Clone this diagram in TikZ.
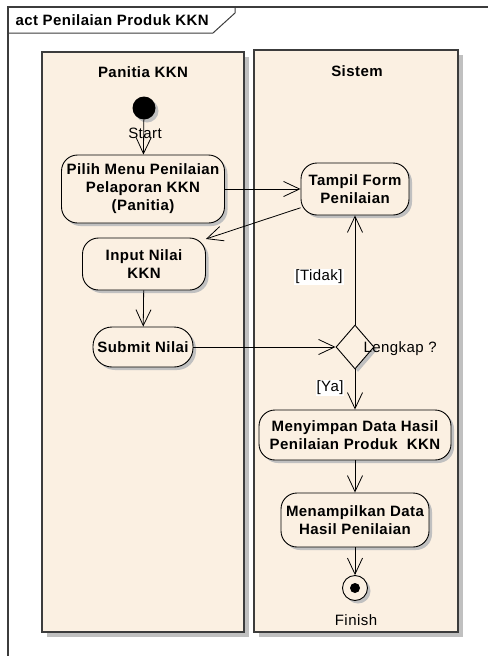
\documentclass[tikz,border=0pt]{standalone}
\usepackage{fontspec}
\setmainfont{Liberation Sans}[LetterSpace=3]
\usetikzlibrary{shapes.geometric, arrows.meta, shadows}
\definecolor{lanefill}{RGB}{251,240,226}
\definecolor{shadegray}{RGB}{192,192,192}
\definecolor{framegray}{RGB}{60,60,60}
\newcommand{\umlfont}{\fontsize{15}{18}\selectfont}

\begin{document}
\begin{tikzpicture}[x=1pt, y=-1pt,
  lanebox/.style={draw=framegray, fill=lanefill, line width=1.3pt},
  lanehead/.style={font=\umlfont\bfseries},
  umlshadow/.style={drop shadow={shadow xshift=3pt, shadow yshift=-3pt, fill=shadegray, opacity=1}},
  action/.style={draw, fill=lanefill, line width=0.9pt, rounded corners=16pt, align=center,
    inner sep=2pt, font=\umlfont\bfseries, umlshadow},
  flow/.style={-{Straight Barb[length=16pt, width=15pt]}, line width=0.8pt},
  guard/.style={fill=white, inner sep=1pt, font=\umlfont}]
  \useasboundingbox (0,0) rectangle (488,656);
  % frame with its name tab
  \draw[framegray, line width=1.2pt] (8,656) -- (8,7) -- (488,7);
  \draw[framegray, line width=1pt] (8,33) -- (213,33) -- (235,13) -- (235,7);
  \node[anchor=west, font=\umlfont\bfseries] (title) at (12,20) {act Penilaian Produk KKN};
  % swimlanes
  \fill[shadegray] (47,57) rectangle (249,637);
  \fill[shadegray] (259,55) rectangle (463,637);
  \draw[lanebox] (42,52) rectangle (244,632);
  \draw[lanebox] (254,50) rectangle (458,632);
  \node[lanehead] (panitia) at (143,72) {Panitia KKN};
  \node[lanehead] (sistem) at (357,71) {Sistem};
  % Panitia KKN lane
  \node[circle, fill=black, minimum size=23pt, inner sep=0pt, umlshadow] (start) at (144,108) {};
  \node[font=\umlfont] (startlbl) at (145,133) {Start};
  \node[action, minimum width=163pt, minimum height=68pt] (pilih) at (143,189)
    {Pilih Menu Penilaian\\Pelaporan KKN\\(Panitia)};
  \node[action, minimum width=123pt, minimum height=52pt] (input) at (144,264) {Input Nilai\\KKN};
  \node[action, minimum width=100pt, minimum height=40pt, rounded corners=19pt] (submit) at (143,347) {Submit Nilai};
  % Sistem lane
  \node[action, minimum width=108pt, minimum height=52pt] (tampil) at (355,189) {Tampil Form\\Penilaian};
  \node[diamond, draw, fill=lanefill, line width=0.9pt, minimum width=38pt, minimum height=44pt,
    inner sep=0pt, umlshadow] (cek) at (355,347) {};
  \node[anchor=west, font=\umlfont] (cektext) at (360,349) {Lengkap ?};
  \node[action, minimum width=192pt, minimum height=50pt] (simpan) at (355,435)
    {Menyimpan Data Hasil\\Penilaian Produk \ KKN};
  \node[action, minimum width=148pt, minimum height=54pt] (hasil) at (355,520)
    {Menampilkan Data\\Hasil Penilaian};
  \node[circle, draw, fill=lanefill, line width=0.9pt, minimum size=25pt, inner sep=0pt, umlshadow] (finish) at (355,588) {};
  \node[circle, fill=black, minimum size=10pt, inner sep=0pt] (finishdot) at (finish) {};
  \node[font=\umlfont] (finishlbl) at (356,620) {Finish};
  % control flows
  \draw[flow] (start) -- (pilih);
  \draw[flow] (pilih) -- (tampil);
  \draw[flow] (tampil.199) -- (input.22);
  \draw[flow] (input) -- (submit);
  \draw[flow] (submit) -- (cek);
  \draw[flow] (cek) -- (tampil);
  \draw[flow] (cek) -- (simpan);
  \draw[flow] (simpan) -- (hasil);
  \draw[flow] (hasil) -- (finish);
  % guards
  \node[guard] (tidak) at (319,277) {[Tidak]};
  \node[guard] (ya) at (330,388) {[Ya]};
\end{tikzpicture}
\end{document}
